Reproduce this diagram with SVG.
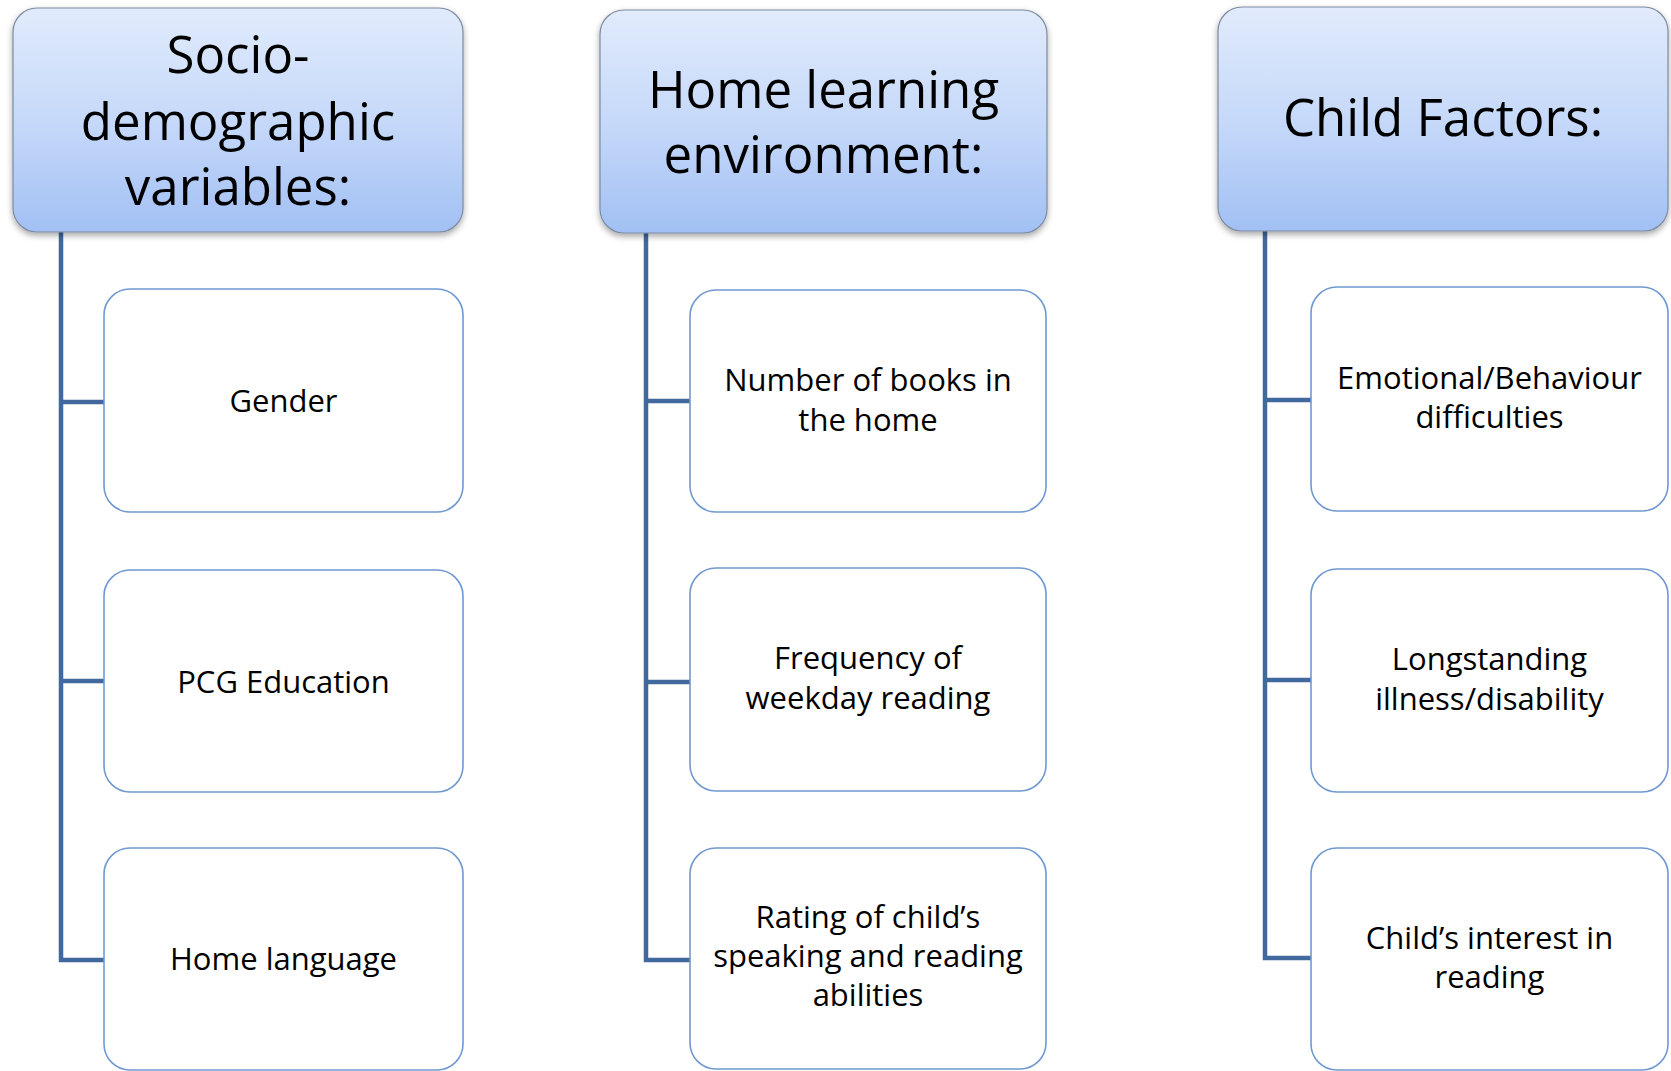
<svg xmlns="http://www.w3.org/2000/svg" width="1671" height="1071" viewBox="0 0 1671 1071">
  <defs>
    <linearGradient id="headFill" x1="0" y1="0" x2="0" y2="1">
      <stop offset="0" stop-color="#e1ebfc"/>
      <stop offset="0.5" stop-color="#c6d9f9"/>
      <stop offset="1" stop-color="#a2c0f4"/>
    </linearGradient>
    <filter id="headShadow" x="-5%" y="-5%" width="110%" height="115%">
      <feDropShadow dx="0" dy="3" stdDeviation="3" flood-color="#000" flood-opacity="0.35"/>
    </filter>
    <style>
      .head rect { fill: url(#headFill); stroke: #7d8ba0; stroke-width: 1.2; filter: url(#headShadow); }
      .head text { font-family: "Open Sans", "Liberation Sans", sans-serif; font-size: 51px; fill: #000; text-anchor: middle; }
      .item rect { fill: #fff; stroke: #6f99d0; stroke-width: 1.6; }
      .item text { font-family: "Open Sans", "Liberation Sans", sans-serif; font-size: 31px; fill: #000; text-anchor: middle; }
      .links path { fill: none; stroke: #41699d; stroke-width: 4.5; }
    </style>
  </defs>
  <rect width="1671" height="1071" fill="#fff"/>

  <!-- tree connectors: trunk from each heading with a branch to every item -->
  <g id="connectors" class="links">
    <path d="M61 232 V960 H104 M61 402 H104 M61 681 H104"/>
    <path d="M646 233 V960 H690 M646 401 H690 M646 682 H690"/>
    <path d="M1265 231 V958 H1311 M1265 400 H1311 M1265 680 H1311"/>
  </g>

  <!-- column 1 -->
  <g id="head-socio" class="head">
    <rect x="13" y="8" width="450" height="224" rx="24"/>
    <text x="238" y="73">Socio-</text>
    <text x="238" y="140">demographic</text>
    <text x="238" y="205">variables:</text>
  </g>
  <g id="item-gender" class="item">
    <rect x="104" y="289" width="359" height="223" rx="26"/>
    <text x="283.5" y="412">Gender</text>
  </g>
  <g id="item-pcg" class="item">
    <rect x="104" y="570" width="359" height="222" rx="26"/>
    <text x="283.5" y="693">PCG Education</text>
  </g>
  <g id="item-language" class="item">
    <rect x="104" y="848" width="359" height="222" rx="26"/>
    <text x="283.5" y="970">Home language</text>
  </g>

  <!-- column 2 -->
  <g id="head-home" class="head">
    <rect x="600" y="10" width="447" height="223" rx="24"/>
    <text x="823.5" y="108">Home learning</text>
    <text x="823.5" y="173">environment:</text>
  </g>
  <g id="item-books" class="item">
    <rect x="690" y="290" width="356" height="222" rx="26"/>
    <text x="868" y="391">Number of books in</text>
    <text x="868" y="431">the home</text>
  </g>
  <g id="item-frequency" class="item">
    <rect x="690" y="568" width="356" height="223" rx="26"/>
    <text x="868" y="669">Frequency of</text>
    <text x="868" y="709">weekday reading</text>
  </g>
  <g id="item-rating" class="item">
    <rect x="690" y="848" width="356" height="221" rx="26"/>
    <text x="868" y="928">Rating of child’s</text>
    <text x="868" y="967">speaking and reading</text>
    <text x="868" y="1006">abilities</text>
  </g>

  <!-- column 3 -->
  <g id="head-child" class="head">
    <rect x="1218" y="7" width="450" height="224" rx="24"/>
    <text x="1443" y="136">Child Factors:</text>
  </g>
  <g id="item-emotional" class="item">
    <rect x="1311" y="287" width="357" height="224" rx="26"/>
    <text x="1489.5" y="389">Emotional/Behaviour</text>
    <text x="1489.5" y="428">difficulties</text>
  </g>
  <g id="item-illness" class="item">
    <rect x="1311" y="569" width="357" height="223" rx="26"/>
    <text x="1489.5" y="670">Longstanding</text>
    <text x="1489.5" y="710">illness/disability</text>
  </g>
  <g id="item-interest" class="item">
    <rect x="1311" y="848" width="357" height="222" rx="26"/>
    <text x="1489.5" y="949">Child’s interest in</text>
    <text x="1489.5" y="988">reading</text>
  </g>
</svg>
